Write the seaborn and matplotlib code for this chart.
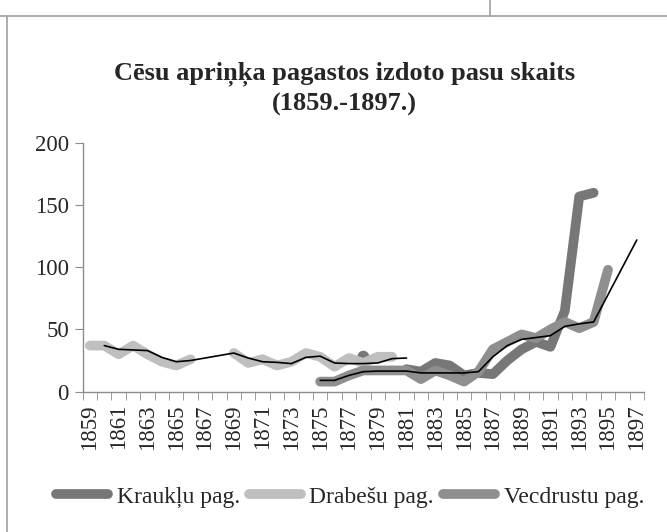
import numpy as np
import pandas as pd
import matplotlib.pyplot as plt
import seaborn as sns
from matplotlib.lines import Line2D

# ==========================================
# 1. DATA
# ==========================================
nan = np.nan
years = list(range(1859, 1898))

# 1859 .. 1897
drabesu = [37, 37, 30, 37, 30, 24, 21, 26, nan, nan,
           31, 23, 26, 21, 24, 31, 28, 20, 27, 23,
           28, 28, nan, nan, nan, nan, nan, nan, nan, nan,
           nan, nan, nan, nan, nan, nan, nan, nan, nan]
krauklu = [nan, nan, nan, nan, nan, nan, nan, nan, nan, nan,
           nan, nan, nan, nan, nan, nan, nan, nan, nan, 28,
           nan, nan, 18, 16, 23, 21, 13, 15, 14, 25,
           34, 40, 36, 65, 157, 160, nan, nan, nan]
vecdrustu = [nan, nan, nan, nan, nan, nan, nan, nan, nan, nan,
             nan, nan, nan, nan, nan, nan, 8, 8, 13, 17,
             17, 17, 17, 10, 17, 13, 8, 16, 34, 40,
             46, 43, 50, 56, 51, 56, 98, nan, nan]
trend_early = [nan, 37, 34, 33.5, 33, 27.5, 24, 25, 27, 29,
               31, 27, 24, 23.5, 22.5, 27.5, 28.5, 23, 22.5, 22.5,
               23, 26.5, 27, nan, nan, nan, nan, nan, nan, nan,
               nan, nan, nan, nan, nan, nan, nan, nan, nan]
trend_late = [nan, nan, nan, nan, nan, nan, nan, nan, nan, nan,
              nan, nan, nan, nan, nan, nan, 9, 9, 13, 16,
              16.5, 16.5, 16.5, 15, 15, 15, 15, 16, 28, 37,
              42, 43.5, 45, 52.5, 54.5, 56, nan, nan, 122]

series = {
    'Kraukļu pag.': (krauklu, '#777777'),
    'Drabešu pag.': (drabesu, '#bfbfbf'),
    'Vecdrustu pag.': (vecdrustu, '#8f8f8f'),
}


def segments(values):
    # split a series at gaps so the thick lines break like in the original
    s = pd.Series(values, dtype=float)
    df = pd.DataFrame({'x': np.arange(len(s)), 'y': s})
    df['seg'] = df['y'].isna().cumsum()
    return df.dropna()


# ==========================================
# 2. PLOT
# ==========================================
sns.set_style("white")
plt.rcParams['font.family'] = ['Liberation Serif', 'DejaVu Serif']

fig = plt.figure(figsize=(6.67, 5.32), dpi=100)
ax = fig.add_axes([0.124, 0.264, 0.8415, 0.467])

lw_thick = 7.0
for name, (vals, col) in series.items():
    d = segments(vals)
    sizes = d.groupby('seg')['x'].transform('size')
    sns.lineplot(data=d[sizes > 1], x='x', y='y', units='seg', estimator=None,
                 color=col, linewidth=lw_thick, ax=ax, legend=False,
                 solid_capstyle='round', solid_joinstyle='round')
    single = d[sizes == 1]
    if len(single):
        sns.scatterplot(data=single, x='x', y='y', color=col, s=75,
                        edgecolor='none', ax=ax, legend=False)

for vals in (trend_early, trend_late):
    d = segments(vals)
    sns.lineplot(x=d['x'], y=d['y'], color='black', linewidth=1.2, ax=ax,
                 legend=False)

ax.set_xlim(-0.5, len(years) - 0.5)
ax.set_ylim(0, 200)
ax.set_yticks([0, 50, 100, 150, 200])
ax.set_xticks(np.arange(0, len(years), 2))
ax.set_xticklabels([str(y) for y in years[::2]], rotation=90)
ax.set_xticks(np.arange(-0.5, len(years), 1), minor=True)
ax.set_xlabel('')
ax.set_ylabel('')

axis_col = '#8c8c8c'
for side in ['top', 'right']:
    ax.spines[side].set_visible(False)
for side in ['left', 'bottom']:
    ax.spines[side].set_color(axis_col)
    ax.spines[side].set_linewidth(1.0)
ax.tick_params(axis='y', direction='out', length=6, color=axis_col,
               labelsize=16.5, pad=4, left=True)
ax.tick_params(axis='x', which='major', length=0, labelsize=16.5, pad=9)
ax.tick_params(axis='x', which='minor', direction='out', length=6,
               color=axis_col, bottom=True)

fig.text(0.517, 0.833, 'Cēsu apriņķa pagastos izdoto pasu skaits\n(1859.-1897.)',
         ha='center', va='center', fontsize=19, fontweight='bold',
         linespacing=1.35)

handles = [Line2D([], [], color=col, linewidth=lw_thick, solid_capstyle='round')
           for vals, col in series.values()]
fig.legend(handles, list(series.keys()), loc='center', ncol=3,
           bbox_to_anchor=(0.525, 0.066), frameon=False, fontsize=17,
           handlelength=2.2, handletextpad=0.35, columnspacing=0.4)

# frame of the surrounding sheet
frame_col = '#a0a0a0'
fig.add_artist(Line2D([7 / 667, 7 / 667], [0, 1 - 16 / 532], color=frame_col, linewidth=1.2))
fig.add_artist(Line2D([0, 1], [1 - 16 / 532, 1 - 16 / 532], color=frame_col, linewidth=1.2))
fig.add_artist(Line2D([490 / 667, 490 / 667], [1 - 16 / 532, 1], color=frame_col, linewidth=1.2))

fig.savefig('out.png', dpi=100)
